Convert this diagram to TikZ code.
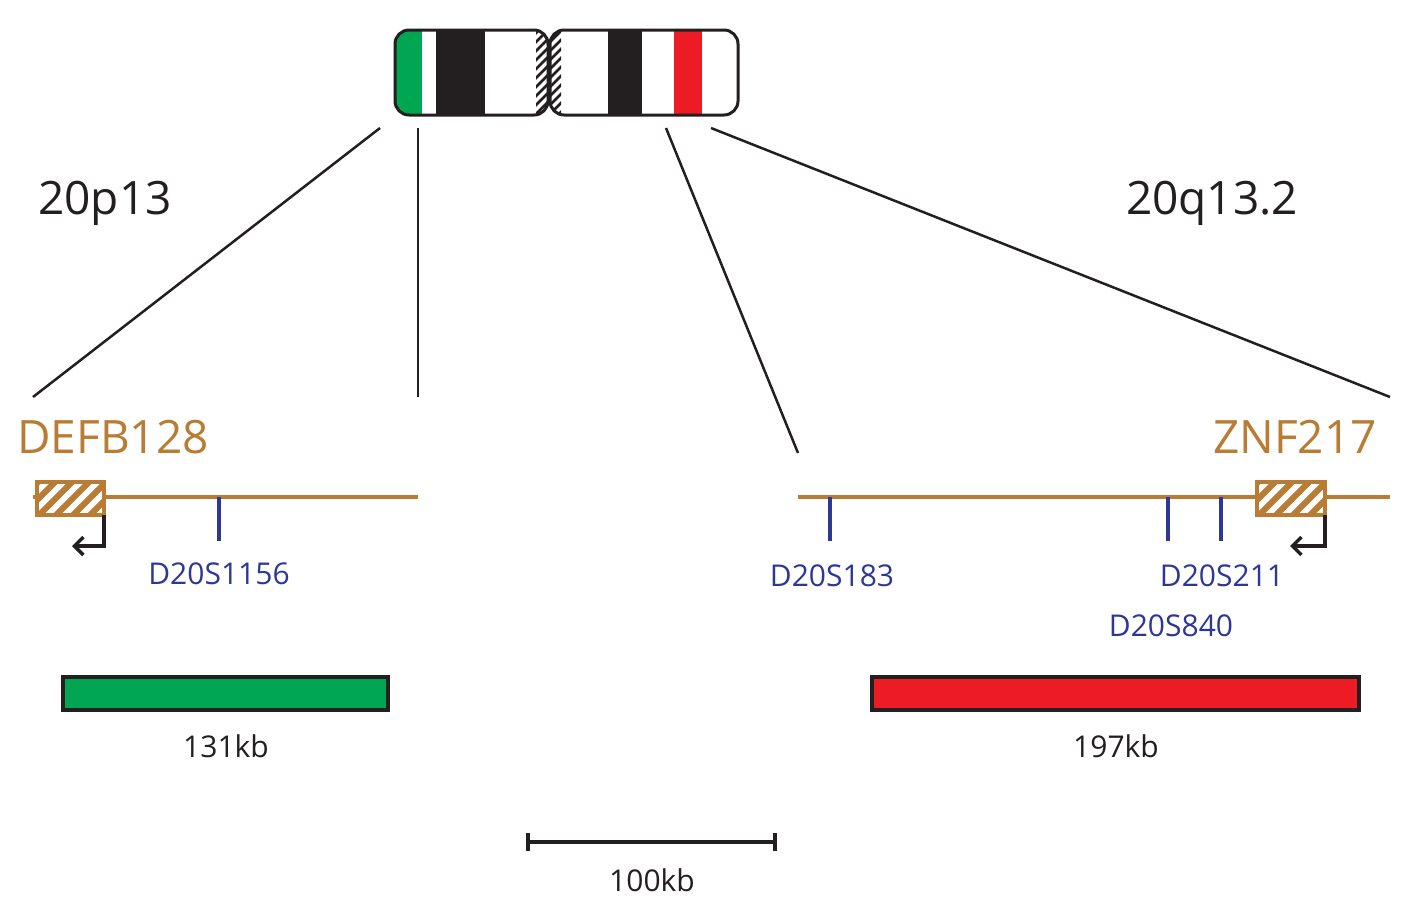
\documentclass[tikz,border=0pt]{standalone}
\usepackage{fontspec}
\setmainfont{Open Sans}
\usetikzlibrary{positioning, arrows.meta}
\definecolor{genebrown}{RGB}{184, 124, 52}
\definecolor{markerblue}{RGB}{45, 55, 150}
\definecolor{bandgreen}{RGB}{0, 166, 81}
\definecolor{bandred}{RGB}{237, 28, 36}
\definecolor{bandblack}{RGB}{35, 31, 32}

% hatched box: #1 colour, #2 x0, #3 y0, #4 x1, #5 y1, #6 spacing, #7 stripe width
\newcommand{\hatchbox}[7]{%
    \begin{scope}
        \clip (#2,#3) rectangle (#4,#5);
        \fill[white] (#2,#3) rectangle (#4,#5);
        \foreach \k [evaluate=\k as \hx using {#2-100+\k*#6}] in {0,...,20}
            \draw[#1, line width=#7] (\hx,#5) -- ({\hx+150},{#5-150});
    \end{scope}}

\begin{document}
\begin{tikzpicture}[
    x=1pt, y=-1pt,
    chr/.style={draw=bandblack, line width=3pt, rounded corners=14pt},
    zoomline/.style={bandblack, line width=2.5pt},
    tick/.style={markerblue, line width=3.5pt},
    marker/.style={text=markerblue, font=\fontsize{30}{30}\selectfont},
    genename/.style={text=genebrown, font=\fontsize{46}{46}\selectfont},
    bandlabel/.style={text=bandblack, font=\fontsize{46}{46}\selectfont},
    kb/.style={text=bandblack, font=\fontsize{30}{30}\selectfont},
    bar/.style={draw=bandblack, line width=3.5pt},
    tss/.style={bandblack, line width=3.5pt, -{Straight Barb[length=9pt, width=18pt]}}
]
    \useasboundingbox (0,0) rectangle (1425,908);

    % Chromosome 20
    \begin{scope}
        \clip[rounded corners=14pt] (395,30) rectangle (548,115);
        \fill[bandgreen] (395,30) rectangle (422,115);
        \fill[bandblack] (436,30) rectangle (485,115);
        \hatchbox{bandblack}{536}{30}{548}{115}{9}{2.5pt}
    \end{scope}
    \begin{scope}
        \clip[rounded corners=14pt] (550,30) rectangle (738,115);
        \hatchbox{bandblack}{550}{30}{561}{115}{9}{2.5pt}
        \fill[bandblack] (608,30) rectangle (642,115);
        \fill[bandred] (674,30) rectangle (702,115);
    \end{scope}
    \draw[chr] (395,30) rectangle (548,115);
    \draw[chr] (550,30) rectangle (738,115);
    \coordinate (pLeft) at (380,128);
    \coordinate (pRight) at (418,128);
    \coordinate (qLeft) at (666,128);
    \coordinate (qRight) at (711,128);

    \node[bandlabel] (p13) at (105,203) {20p13};
    \node[bandlabel] (q13) at (1212,203) {20q13.2};

    % 20p13 region
    \coordinate (pStart) at (33,497);
    \coordinate (pEnd) at (418,497);
    \draw[genebrown, line width=3.5pt] (pStart) -- (pEnd);
    \draw[zoomline] (pLeft) -- (33,397);
    \draw[zoomline] (pRight) -- (418,397);
    \node[genename] (defb) at (113,437) {DEFB128};
    \hatchbox{genebrown}{37}{482}{104}{515}{17}{6pt}
    \draw[genebrown, line width=4pt] (37,482) rectangle (104,515);
    \coordinate (defbTss) at (104,515);
    \draw[tss] (defbTss) -- (104,546) -- (72,546);
    \draw[tick] (219,497) -- (219,541);
    \node[marker] (m1156) at (219,574) {D20S1156};

    % 20q13.2 region
    \coordinate (qStart) at (798,497);
    \coordinate (qEnd) at (1390,497);
    \draw[genebrown, line width=3.5pt] (qStart) -- (qEnd);
    \draw[zoomline] (qLeft) -- (798,453);
    \draw[zoomline] (qRight) -- (1390,397);
    \node[genename] (znf) at (1295,437) {ZNF217};
    \hatchbox{genebrown}{1257}{482}{1325}{515}{17}{6pt}
    \draw[genebrown, line width=4pt] (1257,482) rectangle (1325,515);
    \coordinate (znfTss) at (1325,515);
    \draw[tss] (znfTss) -- (1325,546) -- (1290,546);
    \draw[tick] (830,497) -- (830,541);
    \draw[tick] (1168,497) -- (1168,541);
    \draw[tick] (1221,497) -- (1221,541);
    \node[marker] (m183) at (832,576) {D20S183};
    \node[marker] (m211) at (1222,576) {D20S211};
    \node[marker] (m840) at (1171,626) {D20S840};

    % deletion sizes
    \draw[bar, fill=bandgreen] (63,677) rectangle (388,710);
    \node[kb] (k131) at (226,746) {131kb};
    \draw[bar, fill=bandred] (872,677) rectangle (1359,710);
    \node[kb] (k197) at (1116,746) {197kb};

    % scale bar
    \draw[bandblack, line width=3.5pt] (528,842) -- (775,842);
    \draw[bandblack, line width=3.5pt] (528,833) -- (528,851);
    \draw[bandblack, line width=3.5pt] (775,833) -- (775,851);
    \node[kb] (k100) at (652,880) {100kb};
\end{tikzpicture}
\end{document}
